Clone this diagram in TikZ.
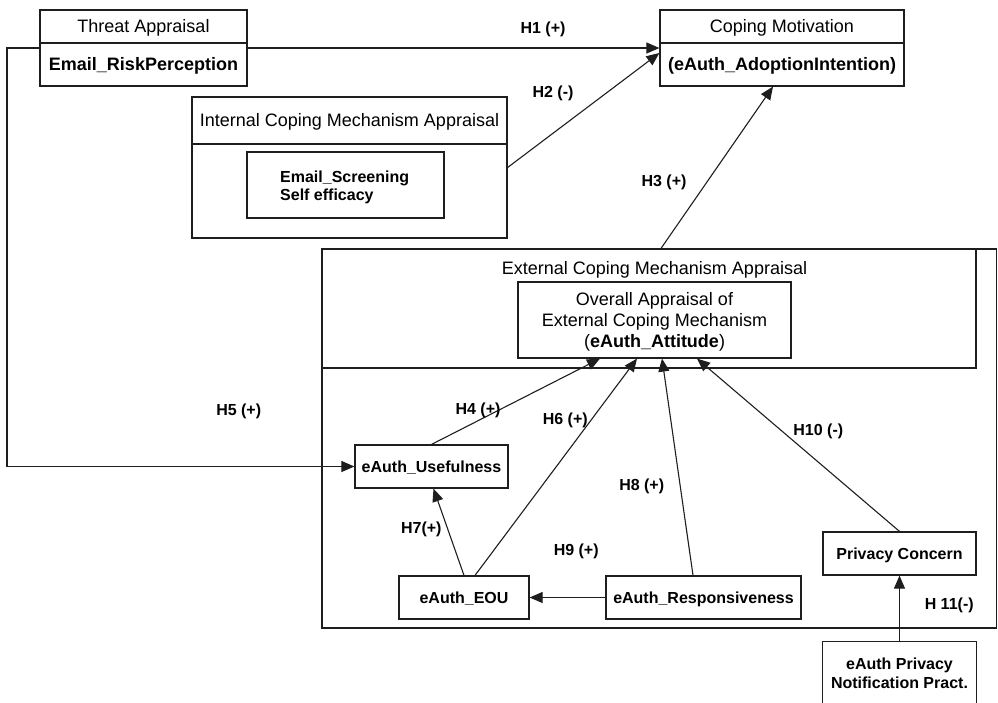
\documentclass[tikz,border=0pt]{standalone}
\usepackage{fontspec}
\setmainfont{Liberation Sans}
\usetikzlibrary{arrows.meta,calc}
\definecolor{ln}{RGB}{30,30,30}
\begin{document}
\begin{tikzpicture}[x=1pt,y=-1pt,
  box/.style={draw=ln, line width=1.2pt, inner sep=0pt, align=center},
  conn/.style={draw=ln, line width=1.1pt, -{Triangle[length=13pt,width=11pt]}},
  divider/.style={draw=ln, line width=2pt},
  lab/.style={font=\fontsize{16}{19}\selectfont\bfseries, inner sep=0pt, anchor=base},
  txt/.style={font=\fontsize{18}{21}\selectfont, inner sep=0pt, anchor=base},
  txtb/.style={font=\fontsize{18}{21}\selectfont\bfseries, inner sep=0pt, anchor=base},
  txts/.style={font=\fontsize{16}{19}\selectfont\bfseries, inner sep=0pt, anchor=base},
  sbox/.style={box, font=\fontsize{16}{19}\selectfont\bfseries, text height=11.5pt, text depth=0pt}
]
\useasboundingbox (0,0) rectangle (998,702);

% Threat Appraisal
\node[box, minimum width=207pt, minimum height=76pt] (TA) at (143.5,48) {};
\draw[divider] (TA.west |- 0,43) -- (TA.east |- 0,43);
\node[txt] (TAt) at (143.5,32) {Threat Appraisal};
\node[txtb] (TAb) at (143.5,70) {Email\_RiskPerception};

% Coping Motivation
\node[box, minimum width=244pt, minimum height=76pt] (CM) at (782,48) {};
\draw[divider] (CM.west |- 0,43) -- (CM.east |- 0,43);
\node[txt] (CMt) at (782,32.5) {Coping Motivation};
\node[txtb] (CMb) at (782,70.5) {(eAuth\_AdoptionIntention)};

% Internal Coping Mechanism Appraisal
\node[box, minimum width=315pt, minimum height=141pt] (IC) at (349.5,167.5) {};
\draw[divider] (IC.west |- 0,144) -- (IC.east |- 0,144);
\node[txt] (ICt) at (349.5,126.5) {Internal Coping Mechanism Appraisal};
\node[box, minimum width=197pt, minimum height=66pt] (ES) at (345.5,185) {};
\node[txts, anchor=base west] (ES1) at (280,182.5) {Email\_Screening};
\node[txts, anchor=base west] (ES2) at (280,200) {Self efficacy};

% External Coping Mechanism Appraisal
\node[box, minimum width=674.5pt, minimum height=379pt] (EC) at (659.25,438.5) {};
\node[box, minimum width=654pt, minimum height=119pt] (TB) at (649,308.5) {};
\node[txt] (ECt) at (654.5,274) {External Coping Mechanism Appraisal};
\node[box, minimum width=273pt, minimum height=76pt] (OA) at (654.5,320) {};
\node[txt] (OA1) at (654.5,305.5) {Overall Appraisal of};
\node[txt] (OA2) at (654.5,326.5) {External Coping Mechanism};
\node[txt] (OA3) at (654.5,347.5) {(\textbf{eAuth\_Attitude})};

% lower constructs
\node[sbox, minimum width=153pt, minimum height=43pt] (U) at (431.5,466.5) {eAuth\_Usefulness};
\node[sbox, minimum width=130pt, minimum height=43pt] (EOU) at (464,597.5) {eAuth\_EOU};
\node[sbox, minimum width=195pt, minimum height=43pt] (R) at (703.5,597.5) {eAuth\_Responsiveness};
\node[sbox, minimum width=153pt, minimum height=43pt] (PC) at (899.5,553.5) {Privacy Concern};
\node[inner sep=0pt, minimum width=153pt, minimum height=66pt] (PN) at (899.5,675) {};
\draw[draw=ln, line width=1.2pt] (PN.south west) |- (PN.north east) -- (PN.south east);
\node[txts] (PN1) at (899.5,669) {eAuth Privacy};
\node[txts] (PN2) at (899.5,688) {Notification Pract.};

% connectors
\coordinate (h5c) at (7,48);
\draw[conn] (TA.east) -- (CM.west);
\draw[conn] (IC.east) -- ([yshift=-5pt]CM.west);
\draw[conn] ([xshift=12pt]TB.north) -- ([xshift=-9pt]CM.south);
\draw[conn] (TA.west) -- (h5c) |- (U.west);
\draw[conn] (U.north) -- ([xshift=-54.5pt]OA.south);
\draw[conn] ([xshift=11pt]EOU.north) -- ([xshift=-17.5pt]OA.south);
\draw[conn] (EOU.north) -- ([xshift=2pt]U.south);
\draw[conn] ([xshift=-10.5pt]R.north) -- ([xshift=7.5pt]OA.south);
\draw[conn] (R.west) -- (EOU.east);
\draw[conn] (PC.north) -- ([xshift=42.5pt]OA.south);
\draw[conn] (PN.north) -- (PC.south);

% labels
\node[lab] (L1) at (543,33) {H1 (+)};
\node[lab] (L2) at (553,97) {H2 (-)};
\node[lab] (L3) at (664,186) {H3 (+)};
\node[lab] (L4) at (478,414) {H4 (+)};
\node[lab] (L5) at (238.7,415) {H5 (+)};
\node[lab] (L6) at (565.3,424) {H6 (+)};
\node[lab] (L7) at (421.3,533) {H7(+)};
\node[lab] (L8) at (641.7,490) {H8 (+)};
\node[lab] (L9) at (576.2,555) {H9 (+)};
\node[lab] (L10) at (818.3,435.5) {H10 (-)};
\node[lab] (L11) at (949.2,609) {H 11(-)};
\end{tikzpicture}
\end{document}
